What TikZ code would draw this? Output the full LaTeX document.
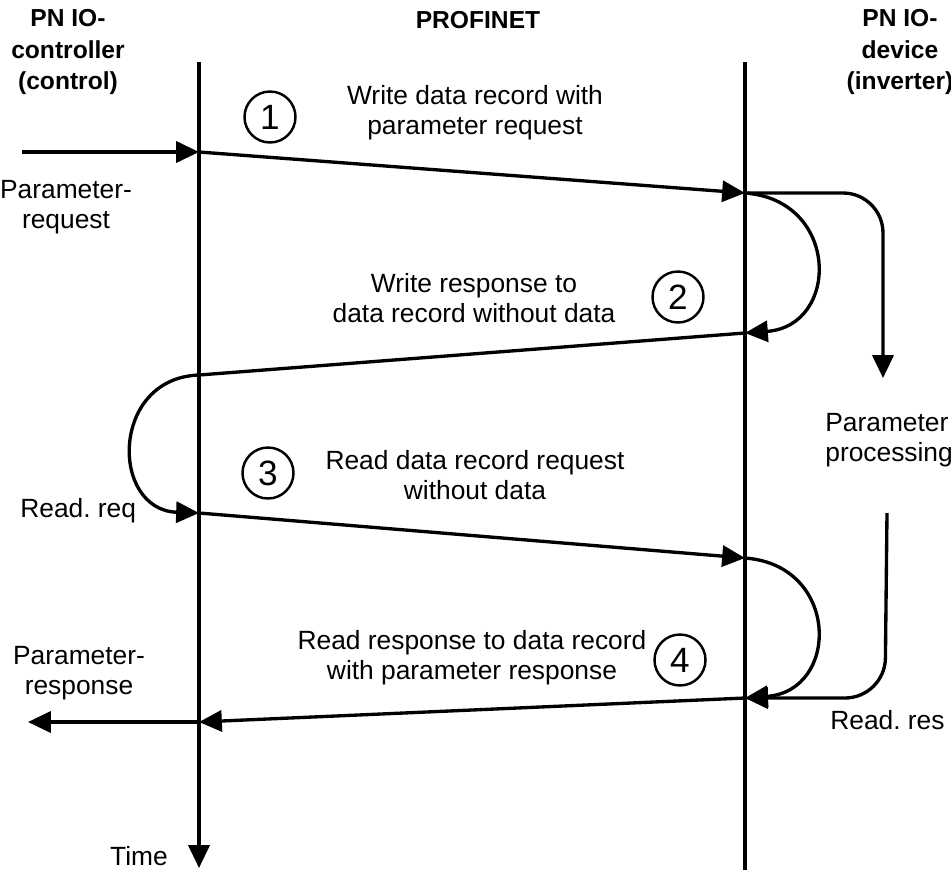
\documentclass[tikz,border=0pt]{standalone}
\usepackage{fontspec}
\setmainfont{Liberation Sans}
\usetikzlibrary{arrows.meta}
\frenchspacing
\tikzstyle{life}=[line width=1.9pt]
\tikzstyle{msg}=[line width=1.9pt,-{Triangle[length=13pt,width=12pt]}]
\tikzstyle{stepnum}=[draw,circle,line width=1.4pt,minimum size=1.02cm,inner sep=0pt,font=\fontsize{20}{22}\selectfont]
\tikzstyle{txt}=[align=center,inner sep=0pt,font=\fontsize{15}{17}\selectfont]
\tikzstyle{head}=[align=center,inner sep=0pt,font=\fontsize{14}{18}\selectfont\bfseries]

\begin{document}
\begin{tikzpicture}[x=0.02cm,y=-0.02cm]
\useasboundingbox (0,0) rectangle (951,870);
% time lines
\coordinate (ctop) at (199,62);
\coordinate (cbot) at (199,868);
\coordinate (dtop) at (745,62);
\coordinate (dbot) at (745,870);
\draw[msg] (ctop) -- (cbot);
\draw[life] (dtop) -- (dbot);

% headers
\node[head] (hctrl) at (68,52) {PN IO-\\controller\\(control)};
\node[head] (hnet) at (478,20) {PROFINET};
\node[head] (hdev) at (900,52) {PN IO-\\device\\(inverter)};

% message points
\coordinate (in0) at (22,152);
\coordinate (l1) at (199,152);
\coordinate (r1) at (745,193);
\coordinate (r2) at (745,333);
\coordinate (l2) at (199,375);
\coordinate (l3) at (199,513);
\coordinate (r3) at (745,558);
\coordinate (r4) at (745,698);
\coordinate (l4) at (199,722);
\coordinate (out0) at (28,722);
\coordinate (p1) at (883,378);
\coordinate (p2) at (887,513);

% 1
\draw[msg] (in0) -- (l1);
\draw[msg] (l1) -- (r1);
\node[stepnum] (n1) at (270,117) {1};
\node[txt] (t1) at (475,113) {Write data record with\\parameter request};
\node[txt] (preq) at (66,207) {Parameter-\\request};

% 2
\draw[msg] (r1) .. controls (840,200) and (840,326) .. (r2);
\draw[msg,rounded corners=0.8cm] (r1) -- (883,193) -- (p1);
\draw[msg] (r2) -- (l2) .. controls (110,378) and (110,510) .. (l3);
\node[stepnum] (n2) at (678,297) {2};
\node[txt] (t2) at (474,298) {Write response to\\data record without data};
\node[txt,anchor=west,align=left] (proc) at (825,440) {Parameter\\processing};

% 3
\draw[msg] (l3) -- (r3);
\node[stepnum] (n3) at (268,473) {3};
\node[txt] (t3) at (475,475) {Read data record request\\without data};
\node[txt,anchor=west] (rreq) at (20,511) {Read. req};

% 4
\draw[msg] (r3) .. controls (840,565) and (840,691) .. (r4);
\draw[msg,rounded corners=0.8cm] (p2) -- (885,698) -- (r4);
\draw[msg] (r4) -- (l4);
\draw[msg] (l4) -- (out0);
\node[stepnum] (n4) at (680,660) {4};
\node[txt] (t4) at (472,658) {Read response to data record\\with parameter response};
\node[txt,anchor=west] (rres) at (830,720) {Read. res};
\node[txt] (pres) at (79,673) {Parameter-\\response};
\node[txt] (time) at (139,856) {Time};
\end{tikzpicture}
\end{document}
